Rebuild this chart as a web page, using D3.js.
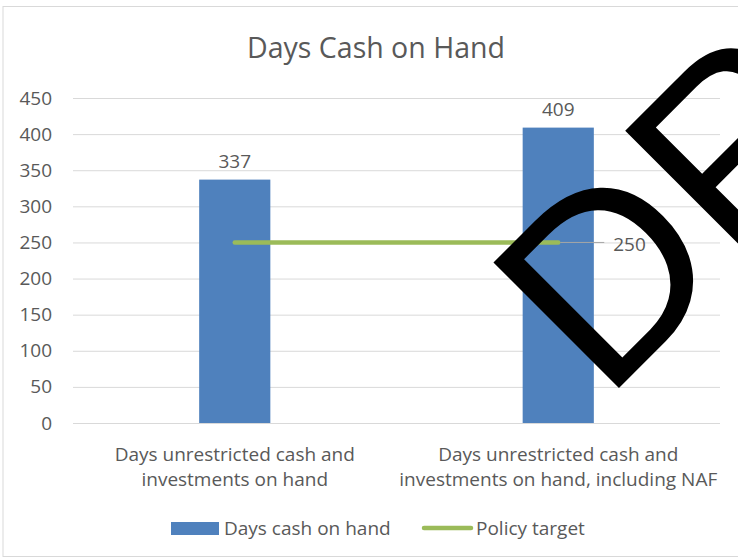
<!DOCTYPE html>
<html>
<head>
<meta charset="utf-8">
<script src="https://cdn.jsdelivr.net/npm/d3@7"></script>
<style>
  body { margin: 0; background: #fff; }
  text { font-family: "Open Sans", "Noto Sans", sans-serif; fill: #595959; }
</style>
</head>
<body>
<div id="chart"></div>
<script>
// Data
const categories = [
  ["Days unrestricted cash and", "investments on hand"],
  ["Days unrestricted cash and", "investments on hand, including NAF"]
]
const daysCash = [337, 409]
const policyTarget = [250, 250]
const yTicks = [0, 50, 100, 150, 200, 250, 300, 350, 400, 450]

const width = 738, height = 558
const margin = { top: 98, right: 18, bottom: 135, left: 73 }
const font = "'Open Sans', 'Noto Sans', sans-serif"
const fs = 19

const svg = d3.select("#chart").append("svg")
  .attr("width", width)
  .attr("height", height)

// chart border
svg.append("rect")
  .attr("x", 3).attr("y", 6.5)
  .attr("width", 760).attr("height", 550)
  .attr("fill", "none")
  .attr("stroke", "#d9d9d9")

const x = d3.scaleBand()
  .domain(d3.range(categories.length))
  .range([margin.left, width - margin.right])
  .paddingInner(0.78)
  .paddingOuter(0.39)

const xc = i => x(i) + x.bandwidth() / 2

const y = d3.scaleLinear()
  .domain([0, 450])
  .range([height - margin.bottom, margin.top])

svg.append("text")
  .attr("x", 376).attr("y", 58)
  .attr("text-anchor", "middle")
  .attr("font-size", 28.5)
  .text("Days Cash on Hand")

// gridlines + y labels
const yAxis = svg.append("g")
  .attr("transform", `translate(${margin.left},0)`)
  .call(d3.axisLeft(y).tickValues(yTicks).tickSize(-(width - margin.right - margin.left)).tickPadding(21))
yAxis.select(".domain").remove()
yAxis.selectAll("line").attr("stroke", "#d9d9d9")
yAxis.selectAll("text").attr("font-size", fs).attr("fill", "#595959")
  .style("font-family", font)

// bars
svg.append("g")
  .selectAll("rect")
  .data(daysCash)
  .join("rect")
  .attr("x", (d, i) => x(i))
  .attr("y", d => y(d))
  .attr("width", x.bandwidth())
  .attr("height", d => y(0) - y(d))
  .attr("fill", "#4f81bd")

svg.append("g")
  .selectAll("text")
  .data(daysCash)
  .join("text")
  .attr("x", (d, i) => xc(i))
  .attr("y", d => y(d) - 12)
  .attr("text-anchor", "middle")
  .attr("font-size", fs)
  .text(d => d)

// policy target line
const line = d3.line().x((d, i) => xc(i)).y(d => y(d))
svg.append("path")
  .datum(policyTarget)
  .attr("d", line)
  .attr("fill", "none")
  .attr("stroke", "#9bbb59")
  .attr("stroke-width", 4.5)
  .attr("stroke-linecap", "round")

// leader line + label for last point
const last = policyTarget.length - 1
svg.append("line")
  .attr("x1", xc(last) + 2).attr("x2", xc(last) + 46)
  .attr("y1", y(policyTarget[last])).attr("y2", y(policyTarget[last]))
  .attr("stroke", "#a6a6a6")
svg.append("text")
  .attr("x", xc(last) + 55)
  .attr("y", y(policyTarget[last]) + 9)
  .attr("font-size", fs)
  .text(policyTarget[last])

// category labels
categories.forEach((lines, i) => {
  const t = svg.append("text")
    .attr("x", xc(i))
    .attr("y", 461)
    .attr("text-anchor", "middle")
    .attr("font-size", fs)
  lines.forEach((s, j) => t.append("tspan").attr("x", xc(i)).attr("dy", j ? 25 : 0).text(s))
})

// legend
svg.append("rect").attr("x", 171).attr("y", 522).attr("width", 48).attr("height", 13).attr("fill", "#4f81bd")
svg.append("text").attr("x", 224).attr("y", 535).attr("font-size", fs).text("Days cash on hand")
svg.append("line").attr("x1", 424).attr("x2", 471).attr("y1", 528).attr("y2", 528)
  .attr("stroke", "#9bbb59").attr("stroke-width", 4.5).attr("stroke-linecap", "round")
svg.append("text").attr("x", 476).attr("y", 535).attr("font-size", fs).text("Policy target")

// watermark
svg.append("text")
  .attr("transform", "translate(604,403) rotate(-45)")
  .attr("font-size", 258)
  .style("font-family", "'Liberation Sans', sans-serif")
  .style("fill", "#000")
  .text("DRAFT")
</script>
</body>
</html>
